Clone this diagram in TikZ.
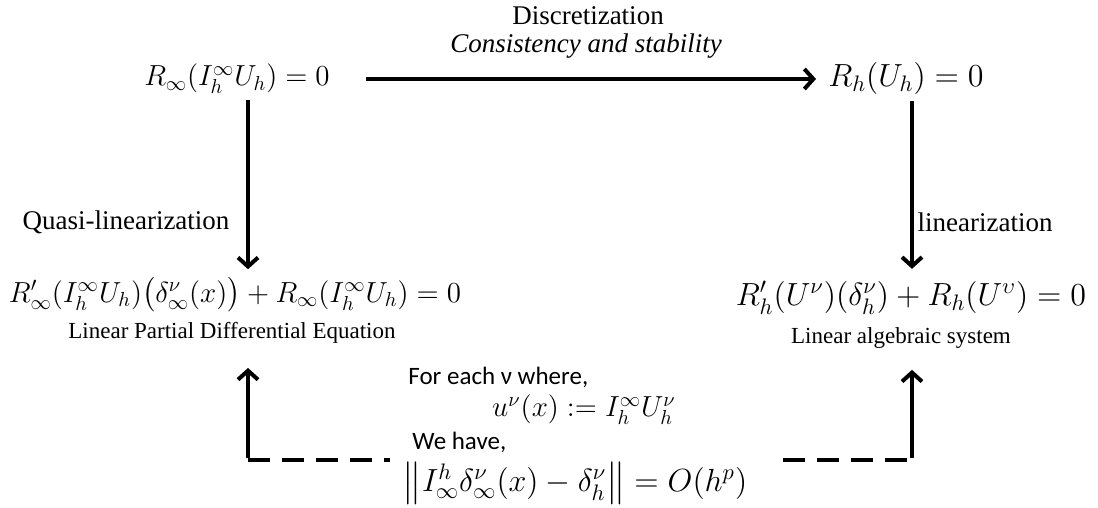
\documentclass[tikz,border=0pt]{standalone}
\usepackage{fix-cm}
\usepackage{amsmath}
\usepackage[no-math]{fontspec}
\setmainfont{Liberation Serif}
\newfontfamily\calfont{Carlito}
\usetikzlibrary{arrows.meta}
\begin{document}
\begin{tikzpicture}[x=0.5pt,y=-0.5pt,
  eqn/.style={font=\fontsize{14.5}{17}\selectfont, inner sep=0pt},
  eqnw/.style={font=\fontsize{16}{19}\selectfont, inner sep=0pt},
  lbl/.style={font=\fontsize{13.5}{16}\selectfont, inner sep=0pt},
  sublbl/.style={font=\fontsize{11.5}{14}\selectfont, inner sep=0pt},
  cal/.style={font=\calfont\fontsize{12.5}{15}\selectfont, inner sep=0pt},
  arr/.style={line width=2pt, -{Straight Barb[length=4.5pt,width=10pt]}},
  dsh/.style={line width=2pt, dash pattern=on 11pt off 6pt}]
\useasboundingbox (0,0) rectangle (1098,508);
% top row
\node[lbl] (disc) at (588,16) {Discretization};
\node[lbl] (cons) at (586,46) {\itshape Consistency and stability};
\node[eqn] (tl) at (237,79) {$R_\infty(I_h^\infty U_h) = 0$};
\node[eqnw] (tr) at (906,79) {$R_h(U_h) = 0$};
\draw[arr] ([xshift=18pt]tl.east) -- ([xshift=-6pt]tr.west);
% side labels
\node[lbl] (ql) at (126,222) {Quasi-linearization};
\node[lbl] (li) at (985,222) {linearization};
% bottom row
\node[eqn] (bl) at (235,295) {$R'_\infty(I_h^\infty U_h)\bigl(\delta_\infty^\nu(x)\bigr) + R_\infty(I_h^\infty U_h) = 0$};
\node[sublbl] (bll) at (232,333) {Linear Partial Differential Equation};
\node[eqnw] (br) at (911,298) {$R'_h(U^\nu)(\delta_h^\nu) + R_h(U^\upsilon) = 0$};
\node[sublbl] (brl) at (901,338) {Linear algebraic system};
% vertical arrows
\coordinate (vl) at (248,0);
\coordinate (vr) at (912,0);
\draw[arr] ([yshift=-3pt]tl.south -| vl) -- ([yshift=4pt]bl.north -| vl);
\draw[arr] ([yshift=-3pt]tr.south -| vr) -- ([yshift=6pt]br.north -| vr);
% middle text
\node[cal, anchor=west] (fe) at (408,377) {For each ν where,};
\node[eqn] (ud) at (584,410) {$u^\nu(x) \mathrel{:=} I_h^\infty U_h^\nu$};
\node[cal, anchor=west] (wh) at (412,442) {We have,};
\node[eqnw] (nm) at (575,483) {$\bigl\| I_\infty^h \delta_\infty^\nu(x) - \delta_h^\nu \bigr\| = O(h^p)$};
% dashed feedback
\coordinate (cl) at (248,460);
\coordinate (cr) at (912,460);
\coordinate (dl) at (390,460);
\coordinate (dr) at (783,460);
\draw[dsh] (cl) -- (dl);
\draw[dsh] (dr) -- (cr);
\draw[arr] ([yshift=1pt]cl) -- ([yshift=-12pt]bll.south -| cl);
\draw[arr] ([yshift=1pt]cr) -- ([yshift=-10.5pt]brl.south -| cr);
\end{tikzpicture}
\end{document}
